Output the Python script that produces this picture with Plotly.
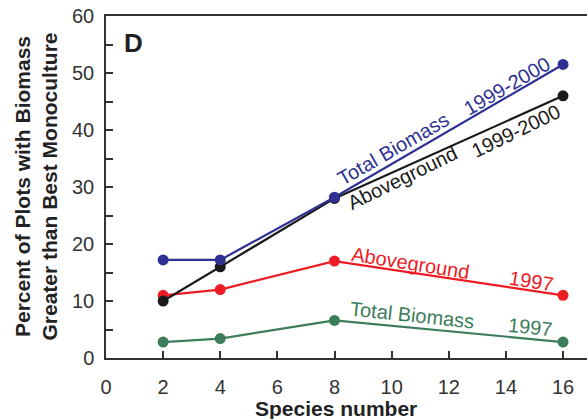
import plotly.graph_objects as go

species = [2, 4, 8, 16]
total_9900 = [17.2, 17.2, 28.2, 51.5]
above_9900 = [10.0, 16.0, 28.0, 46.0]
above_1997 = [11.0, 12.0, 17.0, 11.0]
total_1997 = [2.8, 3.4, 6.6, 2.8]

BLUE = "#2E3192"
BLACK = "#1a1a1a"
RED = "#ED1C24"
GREEN = "#3C7D5A"

FONT = "Liberation Sans, Arial, sans-serif"

fig = go.Figure()
for ys, c in [(total_1997, GREEN), (above_1997, RED), (above_9900, BLACK), (total_9900, BLUE)]:
    fig.add_trace(go.Scatter(x=species, y=ys, mode="lines+markers",
                             line=dict(color=c, width=2.2),
                             marker=dict(color=c, size=11), showlegend=False))

W, H = 587, 419
L, R, T, B = 106, 0, 16, 61
XMAX = 16.84

def px2d(px, py):
    return ((px - L) / (W - L - R) * XMAX, (H - B - py) / (H - T - B) * 60)

labels = [
    ("Total Biomass", 393, 149, -30, BLUE),
    ("1999-2000", 507, 86, -30, BLUE),
    ("Aboveground", 402, 178, -26, BLACK),
    ("1999-2000", 516, 131, -26, BLACK),
    ("Aboveground", 410, 263, 9, RED),
    ("1997", 531, 281, 9, RED),
    ("Total Biomass", 412, 315, 6, GREEN),
    ("1997", 530, 327, 6, GREEN),
]
for txt, px, py, ang, c in labels:
    xd, yd = px2d(px, py)
    fig.add_annotation(x=xd, y=yd, xref="x", yref="y", text=txt, showarrow=False,
                       textangle=ang, font=dict(family=FONT, size=20, color=c),
                       xanchor="center", yanchor="middle")

xd, yd = px2d(133, 43)
fig.add_annotation(x=xd, y=yd, xref="x", yref="y", text="<b>D</b>", showarrow=False,
                   font=dict(family=FONT, size=26, color="#222"), xanchor="center", yanchor="middle")

fig.add_annotation(x=(35.5 - L) / (W - L - R), y=0.5, xref="paper", yref="paper",
                   text="<b>Percent of Plots with Biomass<br>Greater than Best Monoculture</b>",
                   showarrow=False, textangle=-90, xanchor="center", yanchor="middle",
                   font=dict(family=FONT, size=21, color="#222"))
fig.add_annotation(x=px2d(336, 0)[0], y=-(408 - (H - B)) / (H - T - B), xref="x", yref="paper",
                   text="<b>Species number</b>", showarrow=False, xanchor="center", yanchor="middle",
                   font=dict(family=FONT, size=21, color="#222"))

fig.update_xaxes(range=[0, XMAX], tick0=0, dtick=2, ticks="inside", ticklen=7, tickwidth=1.5,
                 tickcolor="#333", showline=True, linecolor="#333", linewidth=1.5, mirror=True,
                 showgrid=False, zeroline=False, ticklabelstandoff=10,
                 tickfont=dict(family=FONT, size=20, color="#333"))
fig.update_yaxes(range=[0, 60], tick0=0, dtick=10, ticks="inside", ticklen=7, tickwidth=1.5,
                 tickcolor="#333", showline=True, linecolor="#333", linewidth=1.5,
                 showgrid=False, zeroline=False, ticklabelstandoff=6,
                 minor=dict(dtick=5, ticks="inside", ticklen=7, tickwidth=1.5, tickcolor="#333"),
                 tickfont=dict(family=FONT, size=20, color="#333"))

fig.update_layout(width=W, height=H, margin=dict(l=L, r=R, t=T, b=B),
                  plot_bgcolor="white", paper_bgcolor="white")
fig.write_html("out.html", config={"displayModeBar": False},
               post_script="document.body.style.margin='0';document.body.style.overflow='hidden';")
